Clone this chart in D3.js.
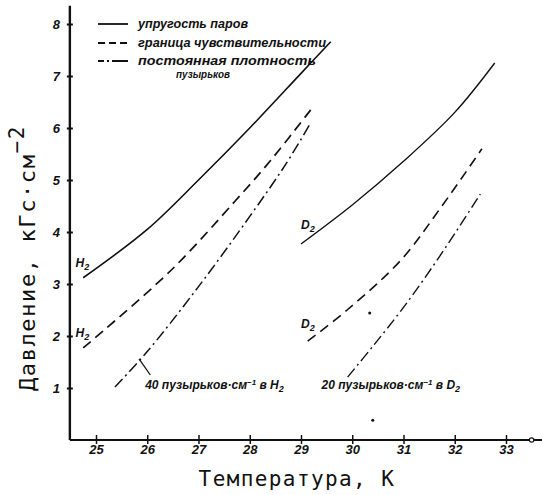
<!DOCTYPE html>
<html lang="ru">
<head>
<meta charset="UTF-8">
<title>Давление паров H2 и D2</title>
<style>
  body { margin: 0; background: #fff; }
  svg { display: block; }
  .hand { font-family: "Liberation Sans", Arial, sans-serif; font-style: italic; font-weight: bold; fill: #111; }
  .title { font-family: "DejaVu Sans Mono", monospace; fill: #111; }
  .curve { fill: none; stroke: #111; }
</style>
</head>
<body>
<div id="chart"></div>
<script src="https://d3js.org/d3.v7.min.js"></script>
<script>
// значения: T в K, P в кГс/см^2
const xTicks = [25, 26, 27, 28, 29, 30, 31, 32, 33];
const yTicks = [1, 2, 3, 4, 5, 6, 7, 8];

// упругость паров
const h2VapT = [24.75, 26, 27, 28, 29, 29.58];
const h2VapP = [3.12, 4.05, 5.0, 6.0, 7.05, 7.66];
const d2VapT = [29.0, 30.0, 31.0, 32.0, 32.78];
const d2VapP = [3.77, 4.52, 5.36, 6.3, 7.25];

// граница чувствительности
const h2SensT = [24.75, 26.45, 27.72, 28.41, 29.19];
const h2SensP = [1.77, 3.25, 4.6, 5.38, 6.35];
const d2SensT = [29.13, 29.9, 30.95, 31.75, 32.53];
const d2SensP = [1.90, 2.5, 3.46, 4.5, 5.6];

// постоянная плотность пузырьков
const h2BubT = [25.37, 26, 27, 28, 28.7, 29.19];
const h2BubP = [1.02, 1.7, 2.95, 4.3, 5.3, 6.1];
const d2BubT = [29.91, 30.4, 31.0, 31.6, 32.1, 32.5];
const d2BubP = [1.21, 1.8, 2.55, 3.38, 4.12, 4.73];

// выноска к подписи 40 пузырьков
const pointerT = [25.84, 26.06];
const pointerP = [1.56, 1.25];

// точки-соринки на оригинале
const speckT = [30.34, 30.4];
const speckP = [2.44, 0.38];

const legendLabels = ["упругость паров", "граница чувствительности", "постоянная плотность"];

const W = 542, H = 495;
const svg = d3.select("#chart").append("svg")
    .attr("width", W).attr("height", H);

const x = d3.scaleLinear().domain([25, 33]).range([96, 506]);
const y = d3.scaleLinear().domain([0, 8]).range([440, 24]);

const zip = (ts, ps) => ts.map((t, i) => [t, ps[i]]);
const line = d3.line()
    .x(d => x(d[0]))
    .y(d => y(d[1]))
    .curve(d3.curveCatmullRom.alpha(0.5));

const solid = null, dashed = "10,6", dashDot = "11,4,2,4";

const curves = [
    { data: zip(h2VapT, h2VapP), dash: solid, w: 1.6 },
    { data: zip(d2VapT, d2VapP), dash: solid, w: 1.4 },
    { data: zip(h2SensT, h2SensP), dash: dashed, w: 1.7 },
    { data: zip(d2SensT, d2SensP), dash: dashed, w: 1.6 },
    { data: zip(h2BubT, h2BubP), dash: dashDot, w: 1.5 },
    { data: zip(d2BubT, d2BubP), dash: dashDot, w: 1.4 }
];

svg.selectAll(".curve")
    .data(curves)
    .enter().append("path")
    .attr("class", "curve")
    .attr("d", d => line(d.data))
    .attr("stroke-width", d => d.w)
    .attr("stroke-dasharray", d => d.dash);

svg.append("path")
    .attr("class", "curve")
    .attr("stroke-width", 1.3)
    .attr("d", d3.line().x(d => x(d[0])).y(d => y(d[1]))(zip(pointerT, pointerP)));

svg.selectAll(".speck")
    .data(zip(speckT, speckP))
    .enter().append("circle")
    .attr("cx", d => x(d[0])).attr("cy", d => y(d[1]))
    .attr("r", 1.5).attr("fill", "#111");

// оси
const xAxis = svg.append("g")
    .attr("transform", `translate(0,${y(0)})`)
    .call(d3.axisBottom(x).tickValues(xTicks).tickSize(0).tickPadding(5));
xAxis.select(".domain").remove();
xAxis.selectAll(".tick").append("line")
    .attr("y1", -5).attr("y2", 4).attr("stroke", "#111").attr("stroke-width", 1.5);
xAxis.selectAll("text").attr("class", "hand").style("font-size", "13px").attr("font-family", null);
xAxis.append("line")
    .attr("x1", x(24.49)).attr("x2", W)
    .attr("stroke", "#111").attr("stroke-width", 2);
xAxis.append("circle")
    .attr("cx", x(33.5)).attr("r", 2.2)
    .attr("fill", "#fff").attr("stroke", "#111").attr("stroke-width", 1.2);

const yAxis = svg.append("g")
    .attr("transform", `translate(${x(24.49)},0)`)
    .call(d3.axisLeft(y).tickValues(yTicks).tickSize(0));
yAxis.select(".domain").remove();
yAxis.selectAll(".tick").append("line")
    .attr("x1", -3).attr("x2", 3).attr("stroke", "#111").attr("stroke-width", 2);
yAxis.selectAll("text").attr("class", "hand").attr("x", -10)
    .style("font-size", "13px").attr("font-family", null);
yAxis.append("line")
    .attr("y1", y(0)).attr("y2", y(8.35))
    .attr("stroke", "#111").attr("stroke-width", 2.4);

// подписи осей
svg.append("text").attr("class", "title")
    .attr("x", x(28.92)).attr("y", 486)
    .attr("text-anchor", "middle")
    .style("font-size", "21px")
    .style("letter-spacing", "1.4px")
    .text("Температура, К");

const yt = svg.append("text").attr("class", "title")
    .attr("transform", `translate(35,${258}) rotate(-90)`)
    .attr("text-anchor", "middle")
    .style("font-size", "22px")
    .style("letter-spacing", "1.6px");
yt.append("tspan").text("Давление, кГс·см");
yt.append("tspan").attr("dy", -11).style("font-size", "21px").text("−2");

// подписи кривых
function sub(sel, main, s) {
    sel.append("tspan").text(main);
    sel.append("tspan").attr("dy", 3).style("font-size", "9px").text(s);
}
sub(svg.append("text").attr("class", "hand").style("font-size", "12px")
    .attr("x", x(24.6)).attr("y", y(3.32)), "H", "2");
sub(svg.append("text").attr("class", "hand").style("font-size", "12px")
    .attr("x", x(24.6)).attr("y", y(1.98)), "H", "2");
sub(svg.append("text").attr("class", "hand").style("font-size", "12px")
    .attr("x", x(29.0)).attr("y", y(4.05)), "D", "2");
sub(svg.append("text").attr("class", "hand").style("font-size", "12px")
    .attr("x", x(29.0)).attr("y", y(2.16)), "D", "2");

function bubbleLabel(tx, count, gas) {
    const t = svg.append("text").attr("class", "hand")
        .style("font-size", "12px")
        .attr("x", x(tx)).attr("y", y(0.98));
    t.append("tspan").text(count + " пузырьков·см");
    t.append("tspan").attr("dy", -4).style("font-size", "8px").text("−1");
    t.append("tspan").attr("dy", 4).text(" в " + gas);
    t.append("tspan").attr("dy", 3).style("font-size", "9px").text("2");
}
bubbleLabel(25.96, 40, "H");
bubbleLabel(29.4, 20, "D");

// легенда
const legend = svg.append("g");
const rows = [24, 43, 61];
const widths = [110, 188, 178];
const dashes = [solid, "7,4", "6,3,2,3,12,0"];
legendLabels.forEach((lab, i) => {
    legend.append("line")
        .attr("x1", 98).attr("x2", 128)
        .attr("y1", rows[i]).attr("y2", rows[i])
        .attr("stroke", "#111").attr("stroke-width", 1.8)
        .attr("stroke-dasharray", dashes[i]);
    legend.append("text").attr("class", "hand")
        .attr("x", 138).attr("y", rows[i] + 4)
        .attr("textLength", widths[i])
        .attr("lengthAdjust", "spacingAndGlyphs")
        .style("font-size", "12px")
        .text(lab);
});
legend.append("text").attr("class", "hand")
    .attr("x", 176).attr("y", 78)
    .attr("textLength", 54)
    .attr("lengthAdjust", "spacingAndGlyphs")
    .style("font-size", "11px")
    .text("пузырьков");
</script>
</body>
</html>
